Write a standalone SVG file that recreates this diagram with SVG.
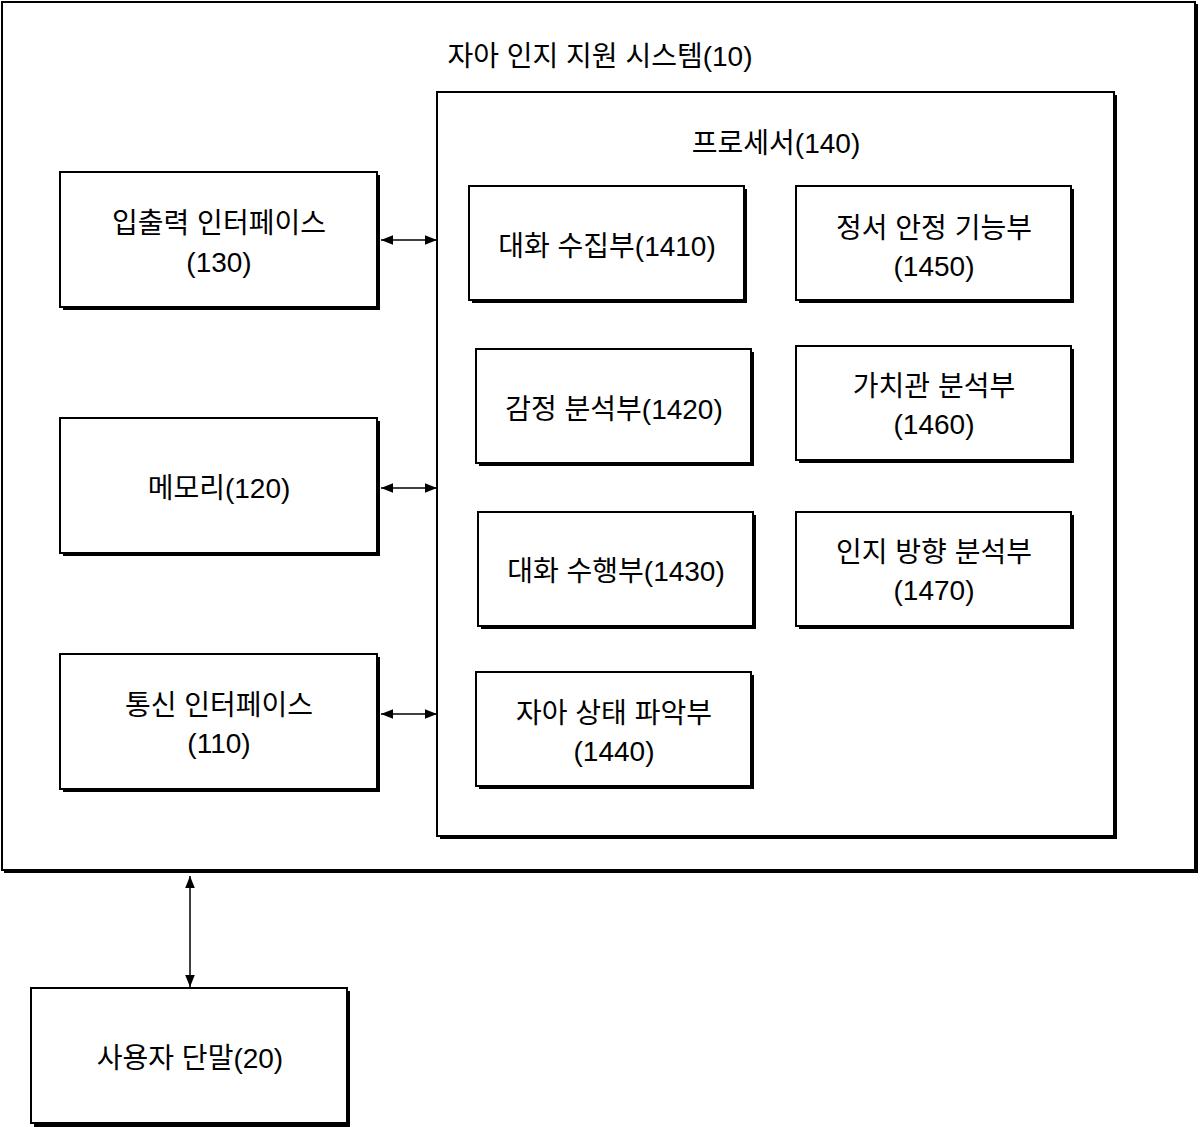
<svg xmlns="http://www.w3.org/2000/svg" width="1200" height="1127" viewBox="0 0 1200 1127">
<style>
.b{fill:#fff;stroke:#000;stroke-width:2}
.s{fill:#000}
text{font-family:"Liberation Sans","Noto Sans CJK KR",sans-serif;font-size:28px;fill:#000;text-anchor:middle}
.c{stroke:#000;stroke-width:1.5;fill:none}
</style>
<defs>
<marker id="a" viewBox="0 0 10 10" refX="10" refY="5" markerWidth="8" markerHeight="8" orient="auto-start-reverse"><path d="M0,1 L10,5 L0,9 z" fill="#000"/></marker>
</defs>
<rect width="1200" height="1127" fill="#fff"/>
<g id="system"><rect x="4" y="4" width="1194" height="869" class="s"/><rect x="2" y="2" width="1193" height="868" class="b"/><text x="600" y="66">자아 인지 지원 시스템(10)</text></g>
<g id="processor"><rect x="440" y="95" width="677" height="744" class="s"/><rect x="437" y="92" width="677" height="744" class="b"/><text x="776" y="153">프로세서(140)</text></g>
<g id="io"><rect x="63" y="175" width="317" height="135" class="s"/><rect x="60" y="172" width="317" height="135" class="b"/><text x="219" y="233">입출력 인터페이스</text><text x="219" y="272">(130)</text></g>
<g id="mem"><rect x="63" y="421" width="317" height="135" class="s"/><rect x="60" y="418" width="317" height="135" class="b"/><text x="219" y="498">메모리(120)</text></g>
<g id="comm"><rect x="63" y="657" width="317" height="135" class="s"/><rect x="60" y="654" width="317" height="135" class="b"/><text x="219" y="715">통신 인터페이스</text><text x="219" y="753">(110)</text></g>
<g id="n1410"><rect x="472" y="189" width="275" height="114" class="s"/><rect x="469" y="186" width="275" height="114" class="b"/><text x="607" y="256">대화 수집부(1410)</text></g>
<g id="n1450"><rect x="799" y="189" width="275" height="114" class="s"/><rect x="796" y="186" width="275" height="114" class="b"/><text x="934" y="238">정서 안정 기능부</text><text x="934" y="276">(1450)</text></g>
<g id="n1420"><rect x="479" y="352" width="275" height="114" class="s"/><rect x="476" y="349" width="275" height="114" class="b"/><text x="614" y="419">감정 분석부(1420)</text></g>
<g id="n1460"><rect x="799" y="349" width="275" height="114" class="s"/><rect x="796" y="346" width="275" height="114" class="b"/><text x="934" y="396">가치관 분석부</text><text x="934" y="434">(1460)</text></g>
<g id="n1430"><rect x="481" y="515" width="275" height="114" class="s"/><rect x="478" y="512" width="275" height="114" class="b"/><text x="616" y="581">대화 수행부(1430)</text></g>
<g id="n1470"><rect x="799" y="515" width="275" height="114" class="s"/><rect x="796" y="512" width="275" height="114" class="b"/><text x="934" y="562">인지 방향 분석부</text><text x="934" y="600">(1470)</text></g>
<g id="n1440"><rect x="479" y="675" width="275" height="114" class="s"/><rect x="476" y="672" width="275" height="114" class="b"/><text x="614" y="723">자아 상태 파악부</text><text x="614" y="761">(1440)</text></g>
<g id="user"><rect x="34" y="991" width="316" height="136" class="s"/><rect x="31" y="988" width="316" height="135" class="b"/><text x="190" y="1068">사용자 단말(20)</text></g>
<g id="connectors">
<line x1="381" y1="240" x2="437" y2="240" class="c" marker-start="url(#a)" marker-end="url(#a)"/>
<line x1="381" y1="488" x2="437" y2="488" class="c" marker-start="url(#a)" marker-end="url(#a)"/>
<line x1="381" y1="714" x2="437" y2="714" class="c" marker-start="url(#a)" marker-end="url(#a)"/>
<line x1="190" y1="876" x2="190" y2="987" class="c" marker-start="url(#a)" marker-end="url(#a)"/>
</g>
</svg>
